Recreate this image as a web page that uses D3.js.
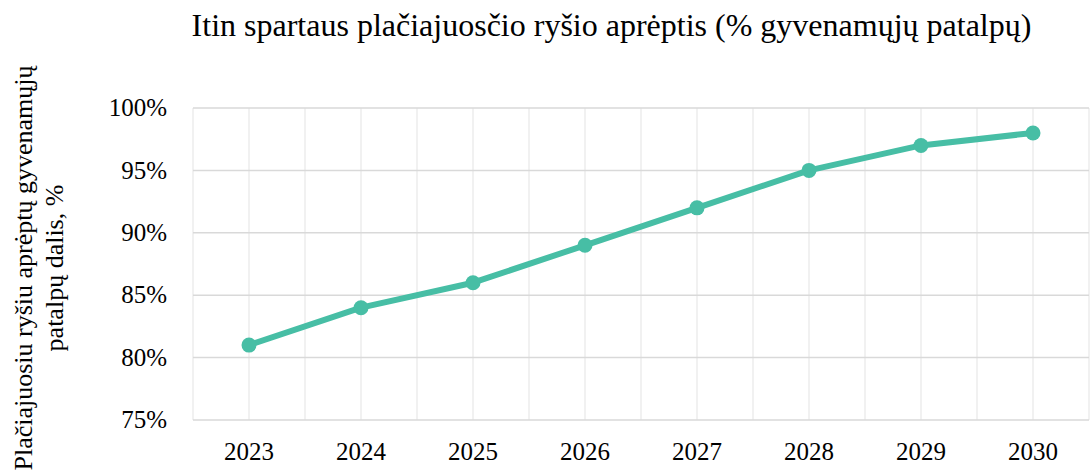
<!DOCTYPE html>
<html>
<head>
<meta charset="utf-8">
<script src="https://cdn.jsdelivr.net/npm/d3@7"></script>
</head>
<body style="margin:0">
<svg id="chart" width="1090" height="475"></svg>
<script>
// duomenys
const years = ["2023", "2024", "2025", "2026", "2027", "2028", "2029", "2030"];
const coverage = [0.81, 0.84, 0.86, 0.89, 0.92, 0.95, 0.97, 0.98];
const yTicks = [0.75, 0.80, 0.85, 0.90, 0.95, 1.00];
const title = "Itin spartaus plačiajuosčio ryšio aprėptis (% gyvenamųjų patalpų)";
const yLabel = ["Plačiajuosiu ryšiu aprėptų gyvenamųjų", "patalpų dalis, %"];

const plot = {left: 193, right: 1089, top: 108, bottom: 420};
const lineColor = "#47bea5";

const svg = d3.select("#chart");

const x = d3.scaleBand().domain(years).range([plot.left, plot.right]).padding(0);
const y = d3.scaleLinear().domain([0.75, 1.0]).range([plot.bottom, plot.top]);
const cx = d => x(d) + x.bandwidth() / 2;

// grille verticale (centres + limites des categories)
const vlines = [];
years.forEach(d => { vlines.push(x(d)); vlines.push(cx(d)); });
vlines.push(plot.right);
svg.append("g").selectAll("line")
    .data(vlines).enter().append("line")
    .attr("x1", d => d).attr("x2", d => d)
    .attr("y1", plot.top).attr("y2", plot.bottom)
    .attr("stroke", "#ececec").attr("stroke-width", 1.5);

// grille horizontale
svg.append("g").selectAll("line")
    .data(yTicks).enter().append("line")
    .attr("x1", plot.left).attr("x2", plot.right)
    .attr("y1", d => y(d)).attr("y2", d => y(d))
    .attr("stroke", "#d9d9d9").attr("stroke-width", 1.5);

// axe y : texte pose a la main a partir de l'echelle
svg.append("g").selectAll("text")
    .data(yTicks).enter().append("text")
    .attr("x", plot.left - 26)
    .attr("y", d => y(d))
    .attr("dy", "0.33em")
    .attr("text-anchor", "end")
    .attr("font-family", "serif").attr("font-size", 25)
    .text(d3.format(".0%"));

// axe x
svg.append("g").selectAll("text")
    .data(years).enter().append("text")
    .attr("x", d => cx(d))
    .attr("y", plot.bottom + 40)
    .attr("text-anchor", "middle")
    .attr("font-family", "serif").attr("font-size", 25)
    .text(d => d);

// ligne
const line = d3.line().x((d, i) => cx(years[i])).y(d => y(d));
svg.append("path")
    .datum(coverage)
    .attr("d", line)
    .attr("fill", "none")
    .attr("stroke", lineColor)
    .attr("stroke-width", 6)
    .attr("stroke-linejoin", "round");

svg.append("g").selectAll("circle")
    .data(coverage).enter().append("circle")
    .attr("cx", (d, i) => cx(years[i]))
    .attr("cy", d => y(d))
    .attr("r", 7.5)
    .attr("fill", lineColor);

// titre
svg.append("text")
    .attr("x", (193 + 1030) / 2).attr("y", 36)
    .attr("text-anchor", "middle")
    .attr("font-family", "serif").attr("font-size", 32)
    .text(title);

// titre axe y
const yl = svg.append("text")
    .attr("transform", "translate(32,268) rotate(-90)")
    .attr("text-anchor", "middle")
    .attr("font-family", "serif").attr("font-size", 26);
yl.selectAll("tspan").data(yLabel).enter().append("tspan")
    .attr("x", 0).attr("y", (d, i) => i * 31)
    .text(d => d);
</script>
</body>
</html>
